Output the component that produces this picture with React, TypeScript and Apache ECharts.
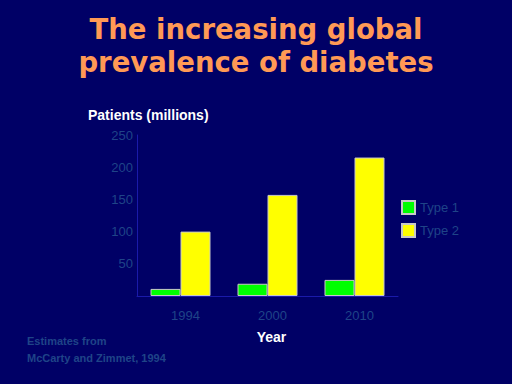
import React, { useEffect, useRef } from "react";
import * as echarts from "echarts";

const years = ["1994", "2000", "2010"];
const type1 = [11, 19, 25];
const type2 = [100, 157, 215];
const seriesNames = ["Type 1", "Type 2"];
const titleLines = ["The increasing global", "prevalence of diabetes"];
const footnote = ["Estimates from", "McCarty and Zimmet, 1994"];

const dim = "#1f4488";
const font = "Liberation Sans, Arial, sans-serif";

export default function App() {
  const ref = useRef<HTMLDivElement>(null);
  useEffect(() => {
    document.body.style.margin = "0";
    const chart = echarts.init(ref.current!, null, { renderer: "svg" });
    chart.setOption({
      animation: false,
      backgroundColor: "#000066",
      textStyle: { fontFamily: font },
      grid: { left: 137, right: 114, top: 135, bottom: 88 },
      legend: {
        orient: "vertical",
        left: 401,
        top: 200,
        padding: 0,
        itemWidth: 13,
        itemHeight: 13,
        itemGap: 8,
        icon: "rect",
        textStyle: { color: dim, fontSize: 13, fontFamily: font },
        data: seriesNames,
      },
      graphic: [
        {
          type: "text",
          left: "center",
          top: 12,
          style: {
            text: titleLines.join("\n"),
            fill: "#ff9955",
            font: `bold 27.5px "DejaVu Sans", sans-serif`,
            textAlign: "center",
            lineHeight: 33,
          },
        },
        {
          type: "text",
          left: 88,
          top: 108,
          style: { text: "Patients (millions)", fill: "#ffffff", font: `bold 14px ${font}` },
        },
        {
          type: "text",
          left: 27,
          top: 332,
          style: { text: footnote.join("\n"), fill: dim, font: `bold 11px ${font}`, lineHeight: 17 },
        },
      ],
      xAxis: {
        type: "category",
        data: years,
        name: "Year",
        nameLocation: "middle",
        nameGap: 34,
        nameTextStyle: { color: "#ffffff", fontWeight: "bold", fontSize: 14, padding: [0, 0, 0, 8] },
        axisLine: { lineStyle: { color: "#1a1aaa", width: 1 } },
        axisTick: { show: false },
        axisLabel: { color: dim, fontSize: 13, margin: 13, padding: [0, 0, 0, 10] },
      },
      yAxis: {
        type: "value",
        min: 0,
        max: 250,
        interval: 50,
        splitLine: { show: false },
        axisLine: { show: true, lineStyle: { color: "#1a1aaa", width: 1 } },
        axisTick: { show: false },
        axisLabel: {
          color: dim,
          fontSize: 13,
          margin: 4,
          formatter: (v: number) => (v === 0 ? "" : String(v)),
        },
      },
      series: [
        {
          name: seriesNames[0],
          type: "bar",
          data: type1,
          barWidth: 30,
          barGap: "0%",
          itemStyle: { color: "#00ff00", borderColor: "#c8c8c8", borderWidth: 1 },
        },
        {
          name: seriesNames[1],
          type: "bar",
          data: type2,
          barWidth: 30,
          barGap: "0%",
          itemStyle: { color: "#ffff00", borderColor: "#c8c8c8", borderWidth: 1 },
        },
      ],
    });
    return () => chart.dispose();
  }, []);
  return <div ref={ref} style={{ width: 512, height: 384 }} />;
}
